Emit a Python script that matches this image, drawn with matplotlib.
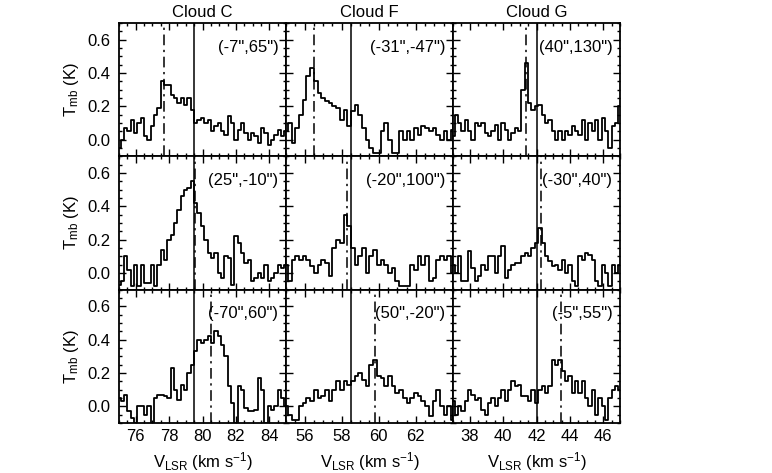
import numpy as np
import matplotlib
matplotlib.use("Agg")
import matplotlib.pyplot as plt
from matplotlib.ticker import MultipleLocator

plt.rcParams['font.family'] = ['Liberation Sans', 'DejaVu Sans']
plt.rcParams['mathtext.fontset'] = 'custom'
plt.rcParams['mathtext.rm'] = 'Liberation Sans'
plt.rcParams['mathtext.it'] = 'Liberation Sans:italic'

# columns: clouds
clouds = ["Cloud C", "Cloud F", "Cloud G"]
x_ranges = [(75.0, 85.0), (55.0, 64.0), (37.0, 47.0)]
x_ticks = [[76, 78, 80, 82, 84], [56, 58, 60, 62], [38, 40, 42, 44, 46]]
v_start = [75.0, 55.0, 37.0]
dv = 0.2  # channel width, km/s
v_sys = [79.5, 58.5, 42.0]  # solid lines

# rows x columns: offsets and dash-dot line velocities
offsets = [['(-7",65")', '(-31",-47")', '(40",130")'],
           ['(25",-10")', '(-20",100")', '(-30",40")'],
           ['(-70",60")', '(50",-20")', '(-5",55")']]
v_peak = [[77.7, 56.5, 41.35],
          [79.55, 58.3, 42.25],
          [80.5, 59.8, 43.45]]

# spectra (Tmb in K), read channel by channel
c1 = [-0.05, 0.0, 0.07, 0.05, 0.12, 0.04, 0.10, 0.13, 0.02, 0.0, 0.08, 0.15, 0.19,
      0.35, 0.33, 0.33, 0.27, 0.25, 0.22, 0.25, 0.21, 0.25, 0.18, 0.10, 0.12, 0.13,
      0.10, 0.12, 0.05, 0.08, 0.10, 0.05, 0.03, 0.14, 0.10, 0.0, 0.06, 0.10, 0.04,
      0.0, 0.04, 0.02, -0.02, 0.07, 0.04, -0.03, 0.0, 0.03, 0.06, 0.02, 0.05]
f1 = [0.05, 0.10, -0.02, 0.07, 0.15, 0.24, 0.38, 0.43, 0.35, 0.28, 0.25, 0.23, 0.22,
      0.20, 0.19, 0.12, 0.18, 0.08, 0.17, 0.21, 0.15, 0.07, 0.0, -0.05, -0.08, -0.08,
      0.05, 0.10, 0.0, -0.08, -0.08, 0.05, 0.0, 0.05, 0.0, 0.07, 0.03, 0.08, 0.07,
      0.05, 0.07, 0.03, 0.0, 0.05, 0.0, 0.06]
g1 = [0.02, 0.15, 0.10, 0.05, 0.12, 0.05, 0.0, 0.10, 0.08, 0.10, 0.04, 0.02, 0.05,
      0.09, 0.0, 0.10, 0.06, 0.0, 0.04, 0.07, 0.05, 0.30, 0.46, 0.22, 0.18, 0.20,
      0.21, 0.15, 0.10, 0.12, 0.05, 0.0, 0.05, 0.0, 0.05, 0.03, 0.08, 0.05, 0.03,
      0.12, 0.0, 0.10, 0.05, 0.12, 0.0, 0.13, 0.05, -0.05, 0.08, 0.10, 0.20]
c2 = [-0.07, -0.05, 0.10, 0.02, -0.08, 0.05, -0.08, 0.05, -0.06, -0.06, 0.05, -0.08,
      0.05, 0.14, 0.08, 0.20, 0.23, 0.30, 0.38, 0.46, 0.50, 0.51, 0.55, 0.42, 0.36,
      0.28, 0.20, 0.12, 0.09, 0.12, 0.0, -0.03, 0.10, 0.09, -0.07, 0.22, 0.18, 0.12,
      0.06, 0.08, -0.05, -0.03, 0.0, -0.03, 0.05, -0.05, -0.03, 0.0, 0.05, 0.03, 0.05]
f2 = [0.05, -0.05, 0.08, 0.10, 0.08, 0.10, 0.08, 0.04, 0.0, 0.05, 0.08, 0.06, -0.02,
      0.15, 0.20, 0.18, 0.35, 0.28, 0.15, 0.05, 0.10, 0.15, 0.0, 0.10, 0.14, 0.05,
      0.08, 0.05, 0.0, 0.03, -0.05, -0.08, -0.08, -0.08, 0.05, 0.02, 0.10, 0.05,
      0.10, -0.05, -0.03, 0.08, 0.10, 0.08, 0.10, 0.0]
g2 = [0.05, 0.0, 0.10, -0.05, -0.05, 0.13, 0.03, -0.05, -0.02, 0.05, 0.02, 0.10, 0.10,
      0.0, 0.10, 0.16, -0.03, 0.02, 0.05, 0.06, 0.06, 0.10, 0.12, 0.10, 0.15, 0.18,
      0.27, 0.18, 0.10, 0.07, 0.04, 0.05, 0.02, 0.08, 0.0, 0.05, -0.05, -0.08, 0.10,
      0.08, 0.12, 0.11, 0.08, -0.05, -0.08, 0.05, 0.0, -0.08, 0.05, 0.0, 0.05]
c3 = [0.05, 0.03, 0.07, -0.03, -0.07, -0.10, 0.0, 0.0, -0.05, 0.0, -0.10, 0.05, 0.07,
      0.07, 0.06, 0.05, 0.23, 0.10, 0.04, 0.13, 0.10, 0.20, 0.25, 0.33, 0.40, 0.38,
      0.40, 0.42, 0.38, 0.45, 0.42, 0.37, 0.30, 0.12, 0.02, -0.10, 0.12, 0.10, -0.01,
      -0.03, -0.03, -0.02, 0.17, 0.10, -0.10, 0.0, -0.02, 0.0, 0.10, 0.05, 0.0]
f3 = [0.0, -0.05, -0.08, -0.08, 0.0, 0.02, 0.05, 0.03, 0.10, 0.05, 0.06, 0.10, 0.03,
      0.10, 0.15, 0.10, 0.15, 0.13, 0.15, 0.18, 0.20, 0.16, 0.12, 0.25, 0.28, 0.18,
      0.17, 0.12, 0.18, 0.12, 0.08, 0.10, 0.05, 0.02, 0.05, 0.08, 0.06, 0.03, 0.0,
      -0.06, 0.03, 0.10, 0.0, -0.05, 0.0, -0.08]
g3 = [0.03, -0.05, 0.0, -0.03, 0.03, 0.10, 0.07, 0.04, 0.05, -0.02, -0.05, 0.02, 0.05,
      0.0, 0.05, 0.10, 0.03, 0.10, 0.15, 0.12, 0.13, 0.06, 0.06, 0.03, 0.10, 0.02,
      0.10, 0.12, 0.08, 0.12, 0.28, 0.25, 0.28, 0.21, 0.15, 0.18, 0.08, 0.15, 0.08,
      0.15, 0.05, 0.0, 0.10, -0.05, 0.05, 0.0, -0.08, 0.05, 0.10, 0.12, 0.10]

spectra = [[c1, f1, g1], [c2, f2, g2], [c3, f3, g3]]


def draw_panel(ax, row, col):
    t = np.array(spectra[row][col])
    v = v_start[col] + dv * np.arange(len(t))
    ax.step(v, t, where='mid', color='black', lw=1.3)
    ax.axvline(v_sys[col], color='black', lw=1.1)
    ax.axvline(v_peak[row][col], color='black', lw=1.1, linestyle=(0, (7, 3, 1.5, 3)))
    ax.set_xlim(*x_ranges[col])
    ax.set_ylim(-0.1, 0.7)
    ax.set_xticks(x_ticks[col])
    ax.set_yticks([0.0, 0.2, 0.4, 0.6])
    ax.xaxis.set_minor_locator(MultipleLocator(0.5))
    ax.yaxis.set_minor_locator(MultipleLocator(0.05))
    ax.tick_params(which='both', direction='in', top=True, right=True,
                   labelsize=12, width=1.0)
    ax.tick_params(which='major', length=5)
    ax.tick_params(which='minor', length=2.5)
    ax.tick_params(axis='y', pad=6)
    ax.tick_params(axis='x', pad=4)
    ax.yaxis.set_major_formatter(plt.FormatStrFormatter('%.1f'))
    for sp in ax.spines.values():
        sp.set_linewidth(1.3)
    ax.text(0.955, 0.82, offsets[row][col], transform=ax.transAxes,
            ha='right', va='center', fontsize=12)
    if col == 0:
        ax.set_ylabel(r'T$_{\rm mb}$ (K)', fontsize=12, labelpad=5)
    else:
        ax.tick_params(labelleft=False)
    if row == 2:
        ax.set_xlabel(r'V$_{\rm LSR}$ (km s$^{-1}$)', fontsize=12, labelpad=5)
    else:
        ax.tick_params(labelbottom=False)
    if row == 0:
        ax.set_title(clouds[col], fontsize=12, pad=4)


def main():
    fig = plt.figure(figsize=(7.72, 4.73), dpi=100)
    left, top = 119 / 772, 1 - 23 / 473
    w = 167 / 772
    h = (400 / 473) / 3
    for row in range(3):
        for col in range(3):
            ax = fig.add_axes([left + col * w, top - (row + 1) * h, w, h])
            draw_panel(ax, row, col)
    fig.savefig("out.png", dpi=100)


if __name__ == "__main__":
    main()
